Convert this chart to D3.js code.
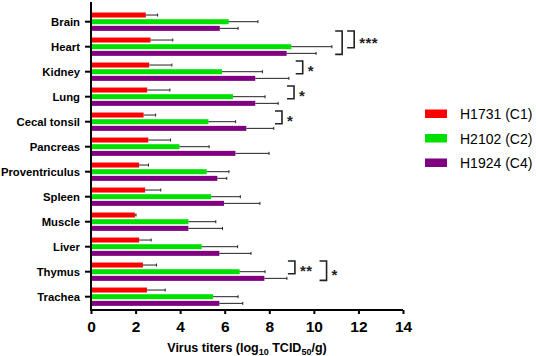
<!DOCTYPE html>
<html>
<head>
<meta charset="utf-8">
<script src="https://cdn.jsdelivr.net/npm/d3@7"></script>
<style>
  html, body { margin: 0; padding: 0; background: #fff; }
  svg { display: block; }
  text { font-family: "Liberation Sans", Arial, Helvetica, sans-serif; }
</style>
</head>
<body>
<svg id="chart" width="536" height="356"></svg>
<script>
// ---------- data ----------
const categories = ["Brain", "Heart", "Kidney", "Lung", "Cecal tonsil", "Pancreas",
  "Proventriculus", "Spleen", "Muscle", "Liver", "Thymus", "Trachea"];
const seriesNames = ["H1731 (C1)", "H2102 (C2)", "H1924 (C4)"];
const seriesColors = ["#ff0000", "#00e000", "#800080"];

// mean titers
const h1731 = [2.46, 2.67, 2.61, 2.52, 2.36, 2.57, 2.16, 2.43, 1.97, 2.16, 2.33, 2.51];
const h2102 = [6.18, 8.99, 5.88, 6.37, 5.27, 3.97, 5.19, 5.39, 4.37, 4.97, 6.67, 5.48];
const h1924 = [5.78, 8.78, 7.37, 7.37, 6.97, 6.48, 5.67, 5.97, 4.37, 5.76, 7.78, 5.76];
// upper error bar ends
const h1731Err = [2.99, 3.67, 3.63, 3.54, 2.90, 3.57, 2.58, 3.13, 2.02, 2.70, 2.94, 3.33];
const h2102Err = [7.49, 10.81, 7.69, 7.81, 6.49, 5.30, 6.19, 6.70, 5.60, 6.58, 7.81, 6.60];
const h1924Err = [6.60, 10.10, 8.88, 8.40, 8.20, 7.99, 6.09, 7.58, 5.90, 7.18, 8.79, 6.81];

const xTicks = [0, 2, 4, 6, 8, 10, 12, 14];

// significance annotations: category, first/last series index, bracket x (data units), label
const sigCats   = ["Heart", "Heart", "Kidney", "Lung", "Cecal tonsil", "Thymus", "Thymus"];
const sigFrom   = [0, 0, 0, 0, 0, 0, 0];
const sigTo     = [2, 1, 1, 1, 1, 1, 2];
const sigX      = [11.27, 11.81, 9.50, 9.11, 8.57, 9.15, 10.57];
const sigLabels = ["", "***", "*", "*", "*", "**", "*"];

// ---------- layout ----------
const svg = d3.select("#chart");
const x = d3.scaleLinear().domain([0, 14]).range([91, 403]);
const y = d3.scaleBand().domain(categories).range([9.2, 309.2]);
const ySub = d3.scaleBand().domain(d3.range(3)).range([-10, 10]).paddingInner(0.25).paddingOuter(0.125);

const means = [h1731, h2102, h1924];
const errs = [h1731Err, h2102Err, h1924Err];

const rows = [];
categories.forEach((c, i) => {
  for (let s = 0; s < 3; s++) rows.push({ cat: c, s, v: means[s][i], e: errs[s][i] });
});
const cy = c => y(c) + y.bandwidth() / 2;
const barY = d => cy(d.cat) + ySub(d.s);
const barMid = (c, s) => cy(c) + ySub(s) + ySub.bandwidth() / 2;

// bars
svg.append("g").selectAll("rect").data(rows).join("rect")
  .attr("x", x(0))
  .attr("y", d => barY(d))
  .attr("width", d => x(d.v) - x(0))
  .attr("height", ySub.bandwidth())
  .attr("fill", d => seriesColors[d.s]);

// error bars
const eg = svg.append("g").attr("stroke", "#222").attr("stroke-width", 1);
eg.selectAll("line.h").data(rows).join("line").attr("class", "h")
  .attr("x1", d => x(d.v)).attr("x2", d => x(d.e))
  .attr("y1", d => barMid(d.cat, d.s)).attr("y2", d => barMid(d.cat, d.s));
eg.selectAll("line.c").data(rows).join("line").attr("class", "c")
  .attr("x1", d => x(d.e)).attr("x2", d => x(d.e))
  .attr("y1", d => barMid(d.cat, d.s) - 1.5).attr("y2", d => barMid(d.cat, d.s) + 1.5);

// x axis
const xAxis = d3.axisBottom(x).tickValues(xTicks).tickSize(4).tickSizeOuter(0).tickFormat(d3.format("d"));
const gx = svg.append("g").attr("transform", "translate(0,310)").call(xAxis);
gx.select(".domain").attr("stroke", "#000").attr("stroke-width", 2).attr("d", `M${x(0)},0H${x(14)}`);
gx.selectAll(".tick line").attr("stroke", "#000").attr("stroke-width", 2);
gx.selectAll(".tick text").attr("y", 22).attr("dy", 0)
  .style("font-size", "15.5px").style("font-weight", "bold").attr("fill", "#000");

// y axis
const yAxis = d3.axisLeft(y).tickSize(6).tickSizeOuter(0).tickPadding(5);
const gy = svg.append("g").attr("transform", `translate(${x(0)},0)`).call(yAxis);
gy.select(".domain").attr("stroke", "#000").attr("stroke-width", 2).attr("d", "M0,2V311");
gy.selectAll(".tick line").attr("stroke", "#000").attr("stroke-width", 2);
gy.selectAll(".tick text").attr("dy", "0.36em")
  .style("font-size", "11.3px").style("font-weight", "bold").attr("fill", "#000");

// axis title
const title = svg.append("text").attr("x", 247).attr("y", 351.5).attr("text-anchor", "middle")
  .style("font-size", "12.5px").style("font-weight", "bold").attr("fill", "#000");
title.append("tspan").text("Virus titers (log");
title.append("tspan").text("10").attr("dy", 3).style("font-size", "9px");
title.append("tspan").text(" TCID").attr("dy", -3);
title.append("tspan").text("50").attr("dy", 3).style("font-size", "9px");
title.append("tspan").text("/g)").attr("dy", -3);

// significance brackets
const sg = svg.append("g");
const arm = 7;
sigCats.forEach((c, i) => {
  const shift = c === "Heart" ? -5 : 0;
  const top = barMid(c, sigFrom[i]) - 4 + shift;
  const bot = barMid(c, sigTo[i]) + 2 + (c === "Heart" ? -1 : 0);
  const bx = x(sigX[i]);
  sg.append("path")
    .attr("d", `M${bx - arm},${top}H${bx}V${bot}H${bx - arm}`)
    .attr("fill", "none").attr("stroke", "#222").attr("stroke-width", 1.6);
  if (sigLabels[i]) {
    sg.append("text").attr("x", bx + 5).attr("y", (top + bot) / 2 + 9)
      .style("font-size", "15px").style("font-weight", "bold").style("letter-spacing", "0.5px")
      .attr("fill", "#222").text(sigLabels[i]);
  }
});

// legend
const lg = svg.append("g").attr("transform", "translate(425,109.5)");
seriesNames.forEach((n, i) => {
  const g = lg.append("g").attr("transform", `translate(0,${i * 24.5})`);
  g.append("rect").attr("width", 22).attr("height", 8.5).attr("fill", seriesColors[i]);
  g.append("text").attr("x", 35).attr("y", 9.5).style("font-size", "14px").attr("fill", "#000").text(n);
});
</script>
</body>
</html>
